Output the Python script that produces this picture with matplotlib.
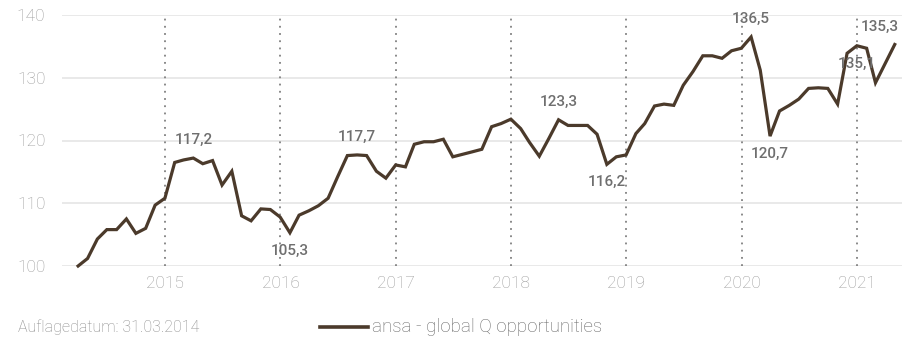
import numpy as np
import pandas as pd
import matplotlib
matplotlib.use('Agg')
from matplotlib import pyplot as plt
import matplotlib.dates as mdates

plt.rcParams['font.family'] = ['Roboto', 'DejaVu Sans']

# monthly index values, 31.03.2014 = 100
dates = pd.date_range('2014-03-31', '2021-04-30', freq='ME')
values = [100.0, 101.2, 104.3, 105.8, 105.8, 107.5, 105.2, 106.0, 109.7, 110.8,
          116.5, 116.9, 117.2, 116.3, 116.8, 112.9, 115.1, 108.0, 107.2, 109.1, 109.0, 107.8,
          105.3, 108.1, 108.8, 109.6, 110.8, 114.2, 117.6, 117.7, 117.6, 115.1, 114.0, 116.1,
          115.8, 119.4, 119.8, 119.8, 120.2, 117.4, 117.8, 118.2, 118.6, 122.2, 122.7, 123.4,
          121.9, 119.7, 117.5, 120.3, 123.3, 122.4, 122.4, 122.4, 121.0, 116.2, 117.4, 117.7,
          121.1, 122.7, 125.5, 125.8, 125.6, 128.8, 131.0, 133.5, 133.5, 133.1, 134.3, 134.7,
          136.5, 131.2, 120.7, 124.7, 125.6, 126.6, 128.3, 128.4, 128.3, 125.8, 133.9, 135.1,
          134.7, 129.2, 132.3, 135.3]

# labelled points: (date, text, above?)
label_dates = ['2015-03-31', '2016-01-31', '2016-08-31', '2018-05-31', '2018-10-31',
               '2020-01-31', '2020-03-31', '2020-12-31', '2021-04-30']
label_texts = ['117,2', '105,3', '117,7', '123,3', '116,2', '136,5', '120,7', '135,1', '135,3']
label_above = [True, False, True, True, False, True, False, False, True]

years = [2015, 2016, 2017, 2018, 2019, 2020, 2021]
yticks = [100, 110, 120, 130, 140]

fig = plt.figure(figsize=(9.02, 3.40), dpi=100)
ax = fig.add_axes([62/902, 74/340, 840/902, 251/340])

line_col = '#4b3a2b'
ax.plot(dates, values, color=line_col, lw=2.3, solid_joinstyle='miter', zorder=3, clip_on=False)

for y in yticks:
    ax.axhline(y, color='#e3e3e3', lw=1.1, zorder=1)
for yr in years:
    ax.axvline(pd.Timestamp(f'{yr}-01-01'), color='#808080', lw=1.3,
               linestyle=(0, (1, 3)), zorder=2)

s = pd.Series(values, index=dates)
for d, t, up in zip(label_dates, label_texts, label_above):
    d = pd.Timestamp(d)
    dx = -11 if t == '135,3' else 0
    dy = 13 if up else -13
    ax.annotate(t, (d, s[d]), xytext=(dx, dy), textcoords='offset points',
                ha='center', va='center', fontsize=11, color='#6f6f6f',
                fontweight='medium', zorder=4)

ax.set_xlim(pd.Timestamp('2014-02-08'), pd.Timestamp('2021-05-23'))
ax.set_ylim(100, 140)
ax.set_yticks(yticks)
ax.set_xticks([pd.Timestamp(f'{yr}-01-01') for yr in years])
ax.xaxis.set_major_formatter(mdates.DateFormatter('%Y'))
ax.tick_params(axis='both', length=0, labelsize=12.5, labelcolor='#9a9a9a')
ax.tick_params(axis='y', pad=12)
ax.tick_params(axis='x', pad=7)
for lab in ax.get_xticklabels() + ax.get_yticklabels():
    lab.set_fontweight('light')
for sp in ax.spines.values():
    sp.set_visible(False)

fig.text(18/902, 1 - 327/340, 'Auflagedatum: 31.03.2014', fontsize=11.5, color='#8a8a8a',
         va='center', ha='left', fontweight='light')
fig.add_artist(plt.Line2D([320/902, 368/902], [1 - 327/340, 1 - 327/340], color=line_col, lw=2.6))
fig.text(372/902, 1 - 327/340, 'ansa - global Q opportunities', fontsize=13.5, color='#666666',
         va='center', ha='left', fontweight='light')

fig.savefig('out.png', dpi=100)
